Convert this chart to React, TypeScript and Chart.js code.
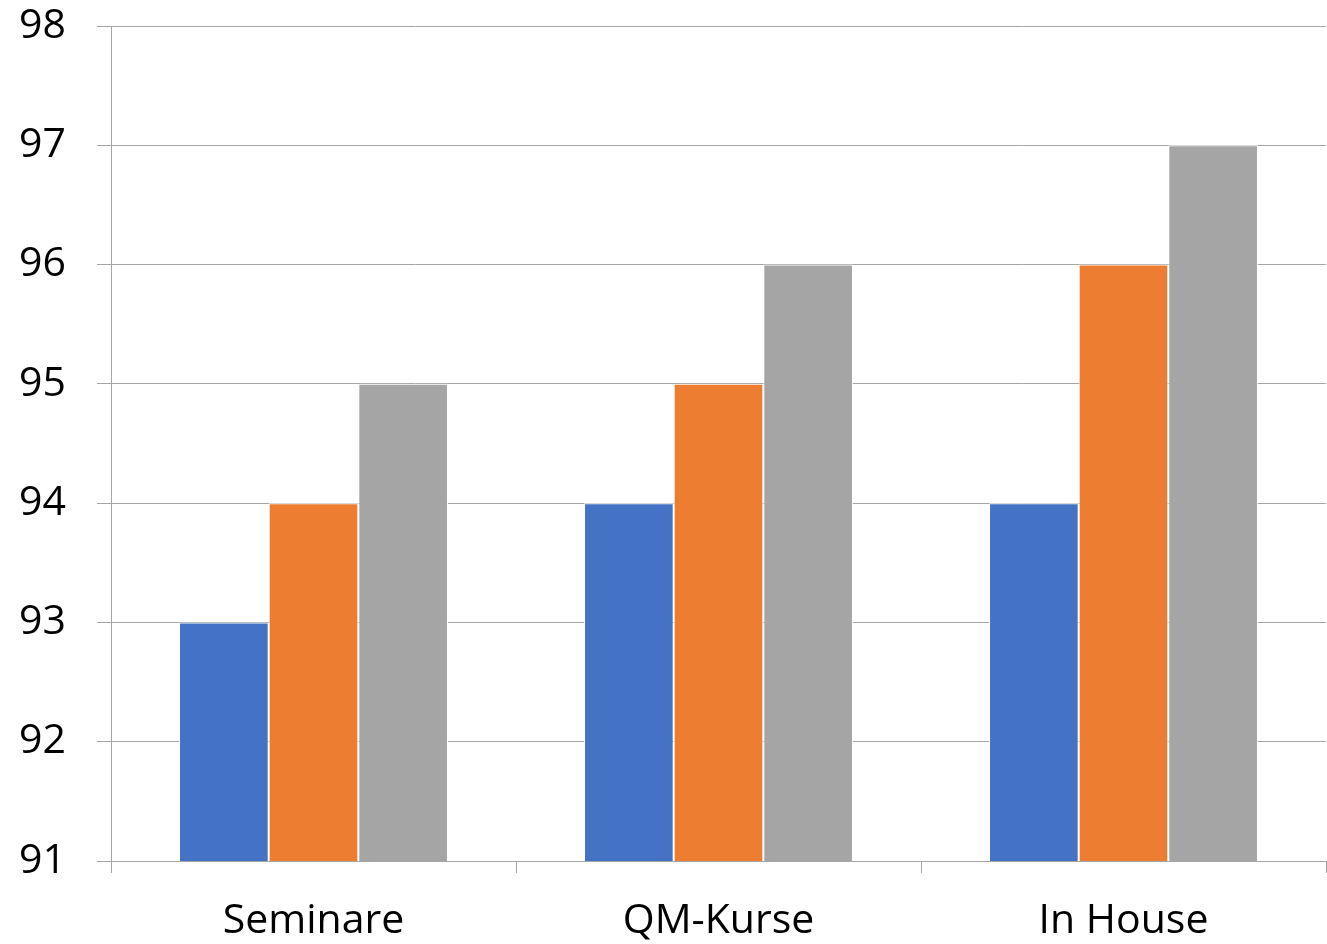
import React, { useEffect, useRef } from "react";
import { Chart, registerables } from "chart.js";

Chart.register(...registerables);

const categories = ["Seminare", "QM-Kurse", "In House"];
const series1 = [93, 94, 94];
const series2 = [94, 95, 96];
const series3 = [95, 96, 97];
const yTicks = [91, 92, 93, 94, 95, 96, 97, 98];

export default function App() {
  const ref = useRef<HTMLCanvasElement | null>(null);
  useEffect(() => {
    if (!ref.current) return;
    const font = { family: "'Open Sans', sans-serif", size: 41 };
    const chart = new Chart(ref.current, {
      type: "bar",
      data: {
        labels: categories,
        datasets: [
          { label: "S1", data: series1, backgroundColor: "#4472C4", borderColor: "#ffffff", borderWidth: 1 },
          { label: "S2", data: series2, backgroundColor: "#ED7D31", borderColor: "#ffffff", borderWidth: 1 },
          { label: "S3", data: series3, backgroundColor: "#A5A5A5", borderColor: "#ffffff", borderWidth: 1 },
        ],
      },
      options: {
        animation: false,
        responsive: false,
        maintainAspectRatio: false,
        layout: { padding: { top: 26, right: 1, left: 0, bottom: 0 } },
        plugins: { legend: { display: false }, tooltip: { enabled: false } },
        datasets: { bar: { categoryPercentage: 0.664, barPercentage: 1 } },
        scales: {
          x: {
            grid: { offset: true, drawOnChartArea: false, drawTicks: true, tickLength: 12, color: "#a6a6a6" },
            border: { color: "#a6a6a6", width: 1 },
            ticks: { color: "#000", font, padding: 24 },
            afterFit: (s: any) => { s.height = 83; s.paddingLeft = 0; s.paddingRight = 0; },
          },
          y: {
            min: 91,
            max: 98,
            afterBuildTicks: (s: any) => { s.ticks = yTicks.map((v) => ({ value: v })); },
            grid: { color: "#a6a6a6", tickLength: 14 },
            border: { color: "#a6a6a6", width: 1 },
            ticks: { color: "#000", font, padding: 31 },
            afterFit: (s: any) => { s.width = 111; s.paddingTop = 0; s.paddingBottom = 0; },
          },
        },
      },
    });
    return () => chart.destroy();
  }, []);
  return (
    <div style={{ position: "absolute", left: 0, top: 0, width: 1327, height: 944, background: "#fff" }}>
      <canvas ref={ref} width={1327} height={944} style={{ width: 1327, height: 944 }} />
    </div>
  );
}
